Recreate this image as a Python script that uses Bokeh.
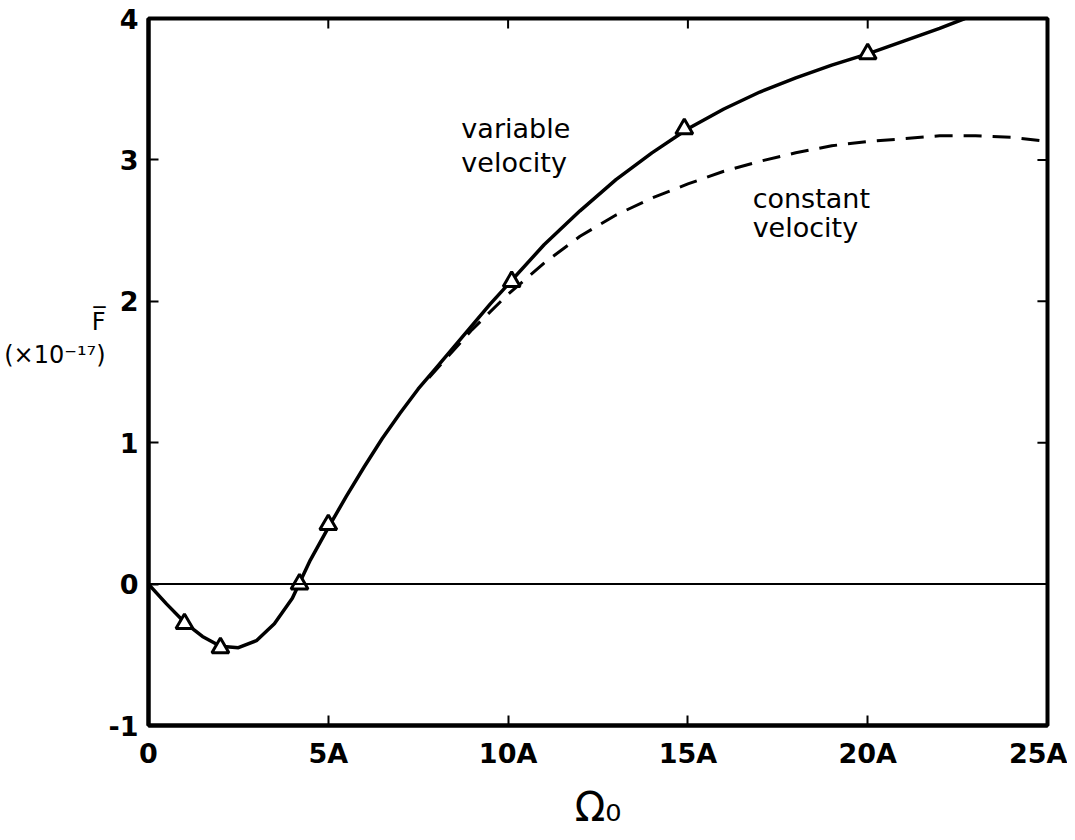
from bokeh.plotting import figure
from bokeh.models import Span, FixedTicker, Range1d
from bokeh.core.properties import value
from bokeh.embed import file_html
from bokeh.resources import INLINE

# ---- data -------------------------------------------------------------
x_ticks = [0, 5, 10, 15, 20, 25]
x_tick_labels = ["0", "5A", "10A", "15A", "20A", "25A"]
y_ticks = [-1, 0, 1, 2, 3, 4]
y_tick_labels = ["-1", "0", "1", "2", "3", "4"]

# variable velocity (solid curve)
var_x = [0, 0.5, 1, 1.5, 2, 2.5, 3, 3.5, 4, 4.5, 5, 5.5, 6, 6.5, 7, 7.5, 8,
         8.5, 9, 9.5, 10, 11, 12, 13, 14, 15, 16, 17, 18, 19, 20, 21, 22, 22.7]
var_y = [0, -0.14, -0.27, -0.37, -0.44, -0.45, -0.40, -0.28, -0.10, 0.17,
         0.40, 0.62, 0.83, 1.03, 1.21, 1.38, 1.53, 1.68, 1.83, 1.98, 2.12,
         2.40, 2.64, 2.86, 3.05, 3.22, 3.36, 3.48, 3.58, 3.67, 3.75, 3.84,
         3.93, 4.0]

# constant velocity (dashed curve)
const_x = [7.8, 9, 10, 11, 12, 13, 14, 15, 16, 17, 18, 19, 20, 21, 22, 23, 24, 25]
const_y = [1.46, 1.80, 2.05, 2.27, 2.46, 2.61, 2.73, 2.83, 2.92, 2.99, 3.05,
           3.10, 3.13, 3.15, 3.17, 3.17, 3.16, 3.13]

# computed points (triangles)
tri_x = [1, 2, 4.2, 5, 10.1, 14.9, 20]
tri_y = [-0.28, -0.45, 0.0, 0.42, 2.14, 3.22, 3.75]

# trailing blank lines lift the two-line title block to where the reference puts it
y_axis_title = "F\u0305\n(×10⁻¹⁷)\n\n"
x_axis_title = "Ω₀"

FONT = "DejaVu Sans"
X0, X1, Y0, Y1 = 0, 25, -1, 4

p = figure(width=1067, height=832, x_range=Range1d(X0, X1), y_range=Range1d(Y0, Y1),
           output_backend="svg", toolbar_location=None,
           min_border_left=148, min_border_right=20, min_border_top=18,
           min_border_bottom=95)
p.grid.visible = False
p.outline_line_color = "black"
p.outline_line_width = 4
p.background_fill_color = "white"
p.border_fill_color = "white"

# bottom axis
xa = p.xaxis[0]
xa.ticker = FixedTicker(ticks=x_ticks)
xa.major_label_overrides = {t: l for t, l in zip(x_ticks, x_tick_labels)}
xa.major_tick_in = 10
xa.major_tick_out = 0
xa.minor_tick_line_color = None
xa.axis_line_width = 4
xa.major_tick_line_width = 2
xa.major_label_text_font = FONT
xa.major_label_text_font_size = "27px"
xa.major_label_text_font_style = "bold"
xa.major_label_text_color = "black"
xa.major_label_standoff = 12
xa.axis_label = x_axis_title
xa.axis_label_text_font = FONT
xa.axis_label_text_font_size = "40px"
xa.axis_label_text_font_style = "normal"
xa.axis_label_text_color = "black"
xa.axis_label_standoff = 12

# left axis
ya = p.yaxis[0]
ya.ticker = FixedTicker(ticks=y_ticks)
ya.major_label_overrides = {t: l for t, l in zip(y_ticks, y_tick_labels)}
ya.major_tick_in = 10
ya.major_tick_out = 0
ya.minor_tick_line_color = None
ya.axis_line_width = 4
ya.major_tick_line_width = 2
ya.major_label_text_font = FONT
ya.major_label_text_font_size = "27px"
ya.major_label_text_font_style = "bold"
ya.major_label_text_color = "black"
ya.major_label_standoff = 10
ya.axis_label = y_axis_title
ya.axis_label_orientation = "horizontal"
ya.axis_label_text_font = FONT
ya.axis_label_text_font_size = "24px"
ya.axis_label_text_font_style = "normal"
ya.axis_label_text_color = "black"
ya.axis_label_standoff = 0

# inward ticks on the right and top edges, from the same tick arrays
tick_dx = 0.28   # ~10px in x data units
tick_dy = 0.07   # ~10px in y data units
p.segment(x0=[X1] * len(y_ticks), y0=y_ticks, x1=[X1 - tick_dx] * len(y_ticks),
          y1=y_ticks, line_color="black", line_width=2)
p.segment(x0=x_ticks, y0=[Y1] * len(x_ticks), x1=x_ticks,
          y1=[Y1 - tick_dy] * len(x_ticks), line_color="black", line_width=2)

# zero line
p.add_layout(Span(location=0, dimension="width", line_color="black", line_width=2))

# curves
p.line(const_x, const_y, line_color="black", line_width=3, line_dash="18 11")
p.line(var_x, var_y, line_color="black", line_width=3.5)
p.scatter(tri_x, tri_y, marker="triangle", size=17, fill_color="white",
          line_color="black", line_width=3)

# curve labels
p.text(x=[8.7, 8.7], y=[3.22, 2.98], text=["variable", "velocity"],
       text_font=value(FONT), text_font_size="27px", text_color="black",
       text_baseline="alphabetic", text_align="left")
p.text(x=[16.8, 16.8], y=[2.73, 2.52], text=["constant", "velocity"],
       text_font=value(FONT), text_font_size="27px", text_color="black",
       text_baseline="alphabetic", text_align="left")

open("out.html", "w").write(file_html(p, INLINE))
